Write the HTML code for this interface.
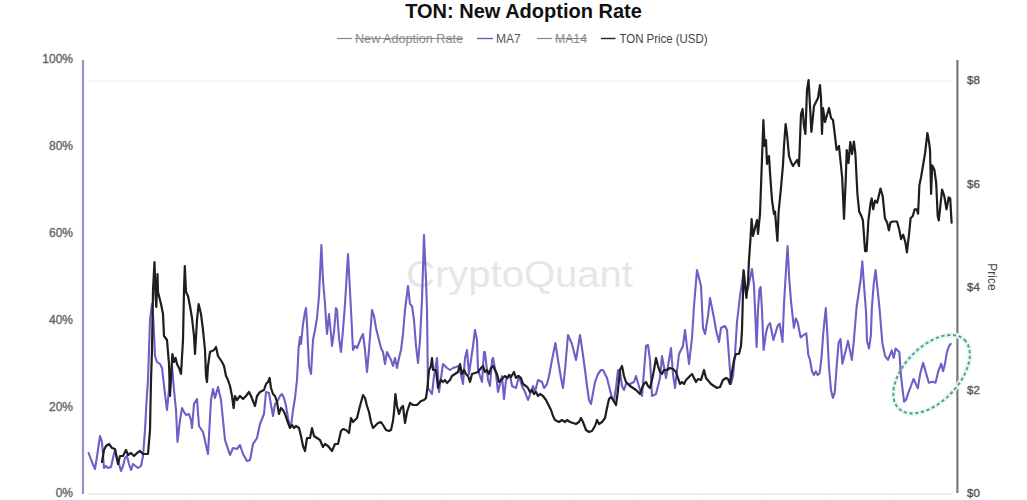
<!DOCTYPE html>
<html><head><meta charset="utf-8"><style>
html,body{margin:0;padding:0;background:#fff;}
body{width:1027px;height:500px;overflow:hidden;position:relative;font-family:"Liberation Sans",sans-serif;}
svg{position:absolute;left:0;top:0;}
</style></head><body>
<svg width="1027" height="500" viewBox="0 0 1027 500" font-family="Liberation Sans, sans-serif">
<rect width="1027" height="500" fill="#ffffff"/>
<text x="523.5" y="17.5" text-anchor="middle" font-size="20" font-weight="bold" fill="#111">TON: New Adoption Rate</text>
<g font-size="12" fill="#555">
<line x1="337" y1="38.5" x2="352" y2="38.5" stroke="#8a8a8a" stroke-width="1.2"/>
<text x="355" y="42.5" fill="#8a8a8a" font-size="12.5" textLength="108" lengthAdjust="spacingAndGlyphs">New Adoption Rate</text>
<line x1="355" y1="38.5" x2="463" y2="38.5" stroke="#8a8a8a" stroke-width="1"/>
<line x1="477" y1="38.5" x2="493" y2="38.5" stroke="#6a5acd" stroke-width="1.4"/>
<text x="496" y="42.5" fill="#555">MA7</text>
<line x1="537" y1="38.5" x2="552" y2="38.5" stroke="#8a8a8a" stroke-width="1.2"/>
<text x="555" y="42.5" fill="#8a8a8a" textLength="32" lengthAdjust="spacingAndGlyphs">MA14</text>
<line x1="555" y1="38.5" x2="587" y2="38.5" stroke="#8a8a8a" stroke-width="1"/>
<line x1="601" y1="38.5" x2="615.5" y2="38.5" stroke="#222" stroke-width="1.4"/>
<text x="619.5" y="42.5" fill="#444" textLength="88" lengthAdjust="spacingAndGlyphs">TON Price (USD)</text>
</g>
<line x1="88" y1="81" x2="952" y2="81" stroke="#f6f6f6" stroke-width="2"/>
<g stroke="#e6e6e6" stroke-width="1"><line x1="124.0" y1="494" x2="124.0" y2="497"/><line x1="187.8" y1="494" x2="187.8" y2="497"/><line x1="251.6" y1="494" x2="251.6" y2="497"/><line x1="315.4" y1="494" x2="315.4" y2="497"/><line x1="379.2" y1="494" x2="379.2" y2="497"/><line x1="443.0" y1="494" x2="443.0" y2="497"/><line x1="506.8" y1="494" x2="506.8" y2="497"/><line x1="570.6" y1="494" x2="570.6" y2="497"/><line x1="634.4" y1="494" x2="634.4" y2="497"/><line x1="698.2" y1="494" x2="698.2" y2="497"/><line x1="762.0" y1="494" x2="762.0" y2="497"/><line x1="825.8" y1="494" x2="825.8" y2="497"/><line x1="889.6" y1="494" x2="889.6" y2="497"/></g>
<line x1="88" y1="494" x2="952" y2="494" stroke="#e8e8e8" stroke-width="1.4"/>
<text x="406" y="286.5" font-size="36" fill="#e6e6ea" textLength="227" lengthAdjust="spacingAndGlyphs">CryptoQuant</text>
<g font-size="12" fill="#666" stroke="#666" stroke-width="0.35" text-anchor="end">
<text x="73" y="63">100%</text>
<text x="73" y="150">80%</text>
<text x="73" y="236.5">60%</text>
<text x="73" y="323.5">40%</text>
<text x="73" y="410.5">20%</text>
<text x="73" y="497">0%</text>
</g>
<g font-size="11.5" fill="#555" stroke="#555" stroke-width="0.35">
<text x="967" y="84">$8</text>
<text x="967" y="187.5">$6</text>
<text x="967" y="290.5">$4</text>
<text x="967" y="394">$2</text>
<text x="967" y="497">$0</text>
</g>
<text transform="translate(987.5,277) rotate(90)" text-anchor="middle" font-size="12" fill="#444">Price</text>
<line x1="83" y1="60" x2="83" y2="494" stroke="#9890cc" stroke-width="2.2"/>
<line x1="957.4" y1="60" x2="957.4" y2="493" stroke="#787878" stroke-width="2.2"/>
<ellipse cx="931.6" cy="374.2" rx="47.5" ry="27.3" transform="rotate(-46.4 931.6 374.2)" fill="none" stroke="#e8f8f2" stroke-width="5"/>
<path d="M88.6 453.0 L92.0 462.0 L95.0 469.0 L97.4 454.0 L100.0 436.0 L102.0 442.0 L104.0 468.0 L106.0 466.0 L108.0 468.0 L111.0 467.0 L113.0 458.0 L115.0 450.0 L117.0 458.0 L119.0 464.0 L121.0 471.0 L123.0 466.0 L125.0 458.0 L127.0 456.0 L129.0 464.0 L131.0 470.0 L133.0 464.0 L135.4 466.0 L138.0 468.0 L141.0 466.0 L143.0 456.0 L145.0 430.0 L146.6 400.0 L148.0 380.0 L150.0 320.0 L152.0 304.0 L153.4 320.0 L155.0 356.0 L157.0 362.0 L160.0 364.0 L162.0 368.0 L165.0 394.0 L167.0 410.0 L170.0 380.0 L172.0 366.0 L174.0 390.0 L176.0 410.0 L177.5 442.0 L180.0 420.0 L182.0 408.0 L184.0 412.0 L186.0 415.0 L189.0 414.0 L191.0 420.0 L192.0 428.0 L194.0 404.0 L197.0 399.0 L199.0 426.0 L203.0 432.0 L208.0 454.0 L211.0 400.0 L213.0 389.0 L215.0 398.0 L218.0 387.0 L221.0 400.0 L225.0 440.0 L230.0 455.0 L233.0 448.0 L237.0 449.0 L240.0 445.0 L243.0 454.0 L247.0 461.0 L250.0 460.0 L253.0 444.0 L257.0 438.0 L260.0 424.0 L264.0 414.0 L266.0 392.0 L269.0 393.0 L271.0 405.0 L273.0 416.0 L275.0 404.0 L277.0 402.0 L280.0 396.0 L282.0 394.0 L284.0 398.0 L286.0 406.0 L288.0 418.0 L290.0 426.0 L291.0 427.0 L293.0 410.0 L295.0 398.0 L297.0 380.0 L298.6 348.0 L300.0 337.0 L301.0 344.0 L303.0 324.0 L305.0 312.0 L306.0 308.0 L307.0 324.0 L309.0 366.0 L311.0 374.0 L313.0 340.0 L315.0 330.0 L317.0 318.0 L319.0 296.0 L321.4 245.0 L323.0 280.0 L325.0 304.0 L326.0 320.0 L327.0 334.0 L329.0 314.0 L331.0 334.0 L332.0 346.0 L334.0 332.0 L336.0 308.0 L337.0 310.0 L339.0 338.0 L341.0 352.0 L343.0 330.0 L345.0 304.0 L348.0 254.0 L351.0 310.0 L353.0 350.0 L355.0 346.0 L357.0 348.0 L361.0 338.0 L363.0 334.0 L365.0 350.0 L367.0 372.0 L369.0 350.0 L372.0 310.0 L374.0 316.0 L376.0 328.0 L379.0 340.0 L381.0 348.0 L383.0 352.0 L385.0 364.0 L387.0 352.0 L391.0 360.0 L393.0 366.0 L395.0 358.0 L397.0 368.0 L399.0 358.0 L401.0 350.0 L403.0 334.0 L405.0 310.0 L408.0 286.0 L410.0 304.0 L412.0 306.0 L414.0 320.0 L416.0 346.0 L418.0 363.0 L420.0 340.0 L422.0 300.0 L424.0 235.0 L426.0 280.0 L427.0 310.0 L428.0 388.0 L432.0 394.0 L434.0 376.0 L437.0 358.0 L439.0 392.0 L443.0 364.0 L447.0 368.0 L450.0 370.0 L453.0 368.0 L459.0 366.0 L463.0 384.0 L465.0 358.0 L467.0 350.0 L469.0 374.0 L473.0 346.0 L475.0 330.0 L477.0 340.0 L478.0 370.0 L482.0 382.0 L484.0 352.0 L485.0 352.0 L488.0 380.0 L490.0 386.0 L492.0 360.0 L493.0 358.0 L496.0 374.0 L498.0 392.0 L502.0 376.0 L504.0 399.0 L506.0 380.0 L510.0 375.0 L512.0 386.0 L516.0 388.0 L519.0 376.0 L522.0 386.0 L525.0 392.0 L528.0 400.0 L533.0 386.0 L535.0 392.0 L538.0 380.0 L542.0 382.0 L544.0 388.0 L547.0 384.0 L549.0 376.0 L552.0 360.0 L555.4 343.0 L558.0 360.0 L561.0 378.0 L563.0 388.0 L565.0 370.0 L568.0 335.0 L572.0 344.0 L576.0 360.0 L580.0 335.0 L583.0 355.0 L585.0 370.0 L587.0 386.0 L589.0 400.0 L591.0 404.0 L595.0 382.0 L598.0 374.0 L601.0 370.0 L603.0 370.0 L604.0 372.0 L607.0 378.0 L608.0 382.0 L610.0 390.0 L612.0 398.0 L614.0 400.0 L616.0 388.0 L618.0 370.0 L620.0 372.0 L622.0 386.0 L624.0 390.0 L626.0 384.0 L630.0 384.0 L634.0 382.0 L636.0 376.0 L640.0 390.0 L642.0 396.0 L646.0 346.0 L648.0 345.0 L650.0 360.0 L652.0 396.0 L656.0 394.0 L660.0 378.0 L662.0 356.0 L666.0 378.0 L671.0 348.0 L673.0 374.0 L675.0 388.0 L679.0 354.0 L683.0 346.0 L685.0 330.0 L689.0 364.0 L692.0 338.0 L694.0 306.0 L697.0 270.0 L701.0 286.0 L703.0 328.0 L705.0 334.0 L708.0 316.0 L710.0 298.0 L714.0 318.0 L716.0 330.0 L719.0 342.0 L721.0 328.0 L725.0 326.0 L727.0 330.0 L731.0 384.0 L733.0 376.0 L735.0 354.0 L737.0 322.0 L740.0 296.0 L743.6 272.0 L746.0 294.0 L748.0 288.0 L752.0 269.0 L754.0 286.0 L755.5 320.0 L756.6 347.0 L758.0 310.0 L759.4 290.0 L760.6 287.0 L762.0 310.0 L763.6 350.0 L766.0 333.0 L767.8 326.0 L770.0 323.0 L773.4 340.0 L775.5 333.0 L777.6 326.0 L779.7 323.6 L782.5 342.0 L784.0 304.0 L786.3 265.0 L787.6 246.0 L789.2 278.5 L791.0 301.3 L793.9 327.9 L795.8 318.4 L797.7 322.2 L800.6 337.4 L803.4 335.2 L806.3 333.3 L808.2 354.2 L810.0 360.0 L812.0 371.3 L813.9 375.1 L815.8 371.3 L817.7 375.1 L819.6 373.2 L821.5 358.0 L823.4 331.4 L825.8 308.0 L827.2 331.4 L829.0 367.5 L831.0 390.3 L832.9 397.9 L834.8 392.2 L836.7 365.6 L838.6 342.8 L840.5 339.0 L842.4 363.7 L846.2 348.5 L848.0 340.9 L851.9 359.9 L853.8 341.2 L856.6 307.0 L860.8 278.5 L862.3 261.4 L864.2 288.0 L866.1 312.7 L867.0 340.9 L869.0 348.5 L870.9 335.2 L871.8 308.9 L873.7 284.2 L875.6 270.0 L879.4 307.0 L881.3 329.8 L882.3 342.8 L885.1 356.1 L888.0 359.9 L891.8 350.4 L893.7 358.0 L895.6 348.5 L899.4 352.3 L900.7 373.2 L902.2 386.5 L904.1 401.7 L906.0 399.8 L907.9 394.1 L910.8 386.5 L913.6 378.9 L917.8 388.4 L920.3 373.2 L923.1 362.8 L925.0 369.4 L928.8 382.7 L932.6 381.8 L935.5 382.7 L938.3 371.3 L941.2 363.7 L943.1 371.3 L945.0 363.7 L946.9 352.3 L948.8 346.6 L950.7 343.8" fill="none" stroke="#6c5fc6" stroke-width="2.1" stroke-linejoin="round" stroke-linecap="round"/>
<path d="M102.0 462.0 L104.0 450.0 L106.0 446.0 L109.0 444.0 L112.0 448.0 L115.0 449.0 L118.0 464.0 L120.0 456.0 L123.0 456.0 L126.0 450.0 L128.0 455.0 L131.0 453.0 L134.0 456.0 L137.0 453.0 L140.0 451.0 L143.0 454.0 L148.0 454.0 L150.0 430.0 L151.0 380.0 L152.0 350.0 L153.0 290.0 L154.5 262.0 L155.5 295.0 L156.3 307.0 L157.5 274.0 L158.0 292.0 L161.0 304.0 L163.0 314.0 L164.0 336.0 L167.0 340.0 L169.0 364.0 L170.0 396.0 L172.4 354.0 L174.0 362.0 L175.6 358.0 L177.0 364.0 L179.0 368.0 L181.0 374.0 L183.0 340.0 L184.0 290.0 L184.8 266.0 L186.0 292.0 L188.0 296.0 L190.0 306.0 L192.0 318.0 L194.0 336.0 L195.0 354.0 L197.0 320.0 L198.6 304.0 L201.0 314.0 L203.0 330.0 L205.0 350.0 L206.0 376.0 L207.0 382.0 L208.0 366.0 L210.0 352.0 L214.0 350.0 L216.0 347.0 L218.0 356.0 L222.0 362.0 L224.0 366.0 L226.0 376.0 L228.0 380.0 L230.0 386.0 L232.0 396.0 L233.6 408.0 L235.0 396.0 L237.0 400.0 L240.0 396.0 L243.0 399.0 L246.0 396.0 L249.0 392.0 L251.0 396.0 L255.0 406.0 L257.0 396.0 L260.0 392.0 L264.0 390.0 L266.0 384.0 L268.0 382.0 L269.6 378.0 L271.0 388.0 L273.0 394.0 L275.0 396.0 L277.0 402.0 L279.0 414.0 L281.0 408.0 L283.0 410.0 L285.0 414.0 L287.0 420.0 L290.0 428.0 L292.0 425.0 L294.0 428.0 L296.0 426.0 L299.0 428.0 L301.0 436.0 L303.0 446.0 L305.0 451.0 L307.0 438.0 L310.0 438.0 L312.0 428.0 L314.0 436.0 L317.0 438.0 L320.0 440.0 L323.0 447.0 L325.0 444.0 L328.0 446.0 L332.0 451.0 L335.0 444.0 L338.0 444.0 L341.0 431.0 L343.0 429.0 L346.0 430.0 L349.0 433.0 L351.0 418.0 L353.0 422.0 L355.0 420.0 L357.0 418.0 L360.0 406.0 L363.0 395.0 L365.0 398.0 L367.0 406.0 L369.0 412.0 L371.0 422.0 L373.0 428.0 L375.0 426.0 L378.0 423.0 L381.0 422.0 L383.0 425.0 L386.0 430.0 L389.0 431.0 L391.0 430.0 L393.0 421.0 L394.0 412.0 L395.4 394.0 L397.0 406.0 L399.0 414.0 L401.0 408.0 L403.0 406.0 L405.0 423.0 L407.0 412.0 L410.0 403.0 L413.0 405.0 L417.0 405.0 L421.0 401.0 L424.0 400.0 L426.0 398.0 L427.4 388.0 L429.0 370.0 L431.0 366.0 L432.0 358.0 L433.0 370.0 L436.0 370.0 L438.0 388.0 L439.0 384.0 L441.0 380.0 L443.0 382.0 L445.0 380.0 L447.0 383.0 L450.0 380.0 L452.0 376.0 L455.0 374.0 L458.0 372.0 L460.0 364.0 L462.0 374.0 L464.0 370.0 L466.0 374.0 L468.0 376.0 L470.0 382.0 L472.0 374.0 L475.0 373.0 L478.0 372.0 L481.0 368.0 L483.0 366.0 L485.0 372.0 L487.0 370.0 L489.0 374.0 L491.0 368.0 L493.0 366.0 L495.0 370.0 L497.0 374.0 L499.0 382.0 L501.0 380.0 L503.0 378.0 L505.0 376.0 L507.0 378.0 L509.0 375.0 L511.0 377.0 L514.0 372.0 L516.0 378.0 L518.0 376.0 L521.0 378.0 L523.0 384.0 L526.0 386.0 L528.0 388.0 L530.0 392.0 L532.0 390.0 L534.0 394.0 L536.0 392.0 L538.0 396.0 L540.0 394.0 L543.0 396.0 L546.0 400.0 L548.0 404.0 L551.0 410.0 L553.0 416.0 L555.0 420.0 L559.0 422.0 L562.0 420.0 L565.0 422.0 L567.0 420.0 L570.0 422.0 L573.0 423.0 L576.0 424.0 L579.0 422.0 L581.0 418.0 L583.0 422.0 L586.0 430.0 L589.0 432.0 L592.0 431.0 L595.0 426.0 L597.0 420.0 L599.0 424.0 L602.0 422.0 L605.0 418.0 L607.0 408.0 L609.0 399.0 L611.0 397.0 L613.0 400.0 L616.0 405.0 L618.0 390.0 L620.0 370.0 L622.0 366.0 L624.0 376.0 L626.0 382.0 L630.0 386.0 L636.0 390.0 L638.0 392.0 L640.0 394.0 L642.0 388.0 L644.0 384.0 L646.0 382.0 L648.0 386.0 L650.0 388.0 L652.0 380.0 L654.0 370.0 L656.0 358.0 L658.0 366.0 L660.0 372.0 L662.0 374.0 L664.0 370.0 L667.0 370.0 L670.0 368.0 L673.0 369.0 L676.0 372.0 L678.0 378.0 L680.0 384.0 L682.0 382.0 L684.0 384.0 L686.0 380.0 L688.0 378.0 L692.0 374.0 L696.0 382.0 L698.0 379.0 L701.0 380.0 L704.0 370.0 L706.0 378.0 L711.0 384.0 L714.0 386.0 L717.0 388.0 L720.0 387.0 L723.0 380.0 L726.0 378.0 L728.0 379.0 L730.0 384.0 L734.0 360.0 L736.0 354.0 L739.0 354.0 L741.0 346.0 L742.0 330.0 L743.6 270.0 L746.4 298.0 L748.0 282.0 L749.0 260.0 L750.4 240.0 L751.6 219.0 L753.0 236.0 L755.0 228.0 L757.0 220.0 L758.0 234.0 L760.0 214.0 L761.3 178.0 L763.4 120.0 L764.6 146.0 L766.0 140.0 L767.0 164.0 L769.0 156.0 L770.2 175.6 L772.0 200.0 L774.0 214.0 L775.0 211.6 L777.4 241.0 L778.6 212.0 L781.0 187.6 L783.0 165.0 L784.0 146.0 L785.6 124.0 L787.0 134.0 L789.0 156.0 L791.0 162.0 L793.0 166.0 L797.0 160.0 L799.0 166.0 L801.0 114.0 L802.6 109.0 L804.0 126.0 L805.4 134.0 L807.0 90.0 L808.6 80.0 L811.4 132.0 L814.0 106.0 L816.0 102.0 L818.0 98.0 L820.0 85.0 L821.0 98.0 L822.0 134.0 L823.0 108.0 L825.0 122.0 L829.0 108.0 L831.0 118.0 L833.0 120.0 L835.0 136.0 L836.6 150.0 L839.0 146.0 L842.2 178.0 L844.0 218.8 L845.8 178.0 L846.7 150.0 L848.5 163.0 L850.3 142.0 L852.0 154.0 L853.9 141.5 L855.4 154.0 L857.4 194.0 L859.2 211.6 L861.4 216.0 L862.9 220.4 L865.1 251.2 L866.6 251.2 L868.4 220.4 L870.6 202.8 L871.7 198.4 L873.2 209.4 L875.0 200.6 L877.2 202.8 L880.5 188.5 L882.7 196.2 L884.9 218.2 L887.1 222.6 L888.9 230.3 L890.4 222.6 L892.6 221.5 L897.0 221.5 L899.2 229.2 L901.0 239.1 L903.2 234.7 L905.4 242.4 L906.9 252.3 L909.1 233.6 L910.6 218.2 L912.8 216.0 L914.6 209.4 L916.8 209.4 L918.1 213.8 L919.4 185.2 L921.2 176.4 L923.4 163.2 L925.2 152.2 L927.4 133.0 L929.0 142.0 L930.0 150.0 L931.1 194.0 L932.2 165.4 L934.4 169.8 L936.2 183.0 L937.7 216.0 L938.8 220.4 L942.1 189.6 L944.3 196.2 L946.5 209.4 L948.7 197.3 L950.2 198.4 L951.6 222.6" fill="none" stroke="#1e1e1e" stroke-width="2.2" stroke-linejoin="round" stroke-linecap="round"/>
<ellipse cx="931.6" cy="374.2" rx="47.5" ry="27.3" transform="rotate(-46.4 931.6 374.2)" fill="none" stroke="#5a9f88" stroke-width="2" stroke-dasharray="3.3 2.5"/>
</svg>
</body></html>
